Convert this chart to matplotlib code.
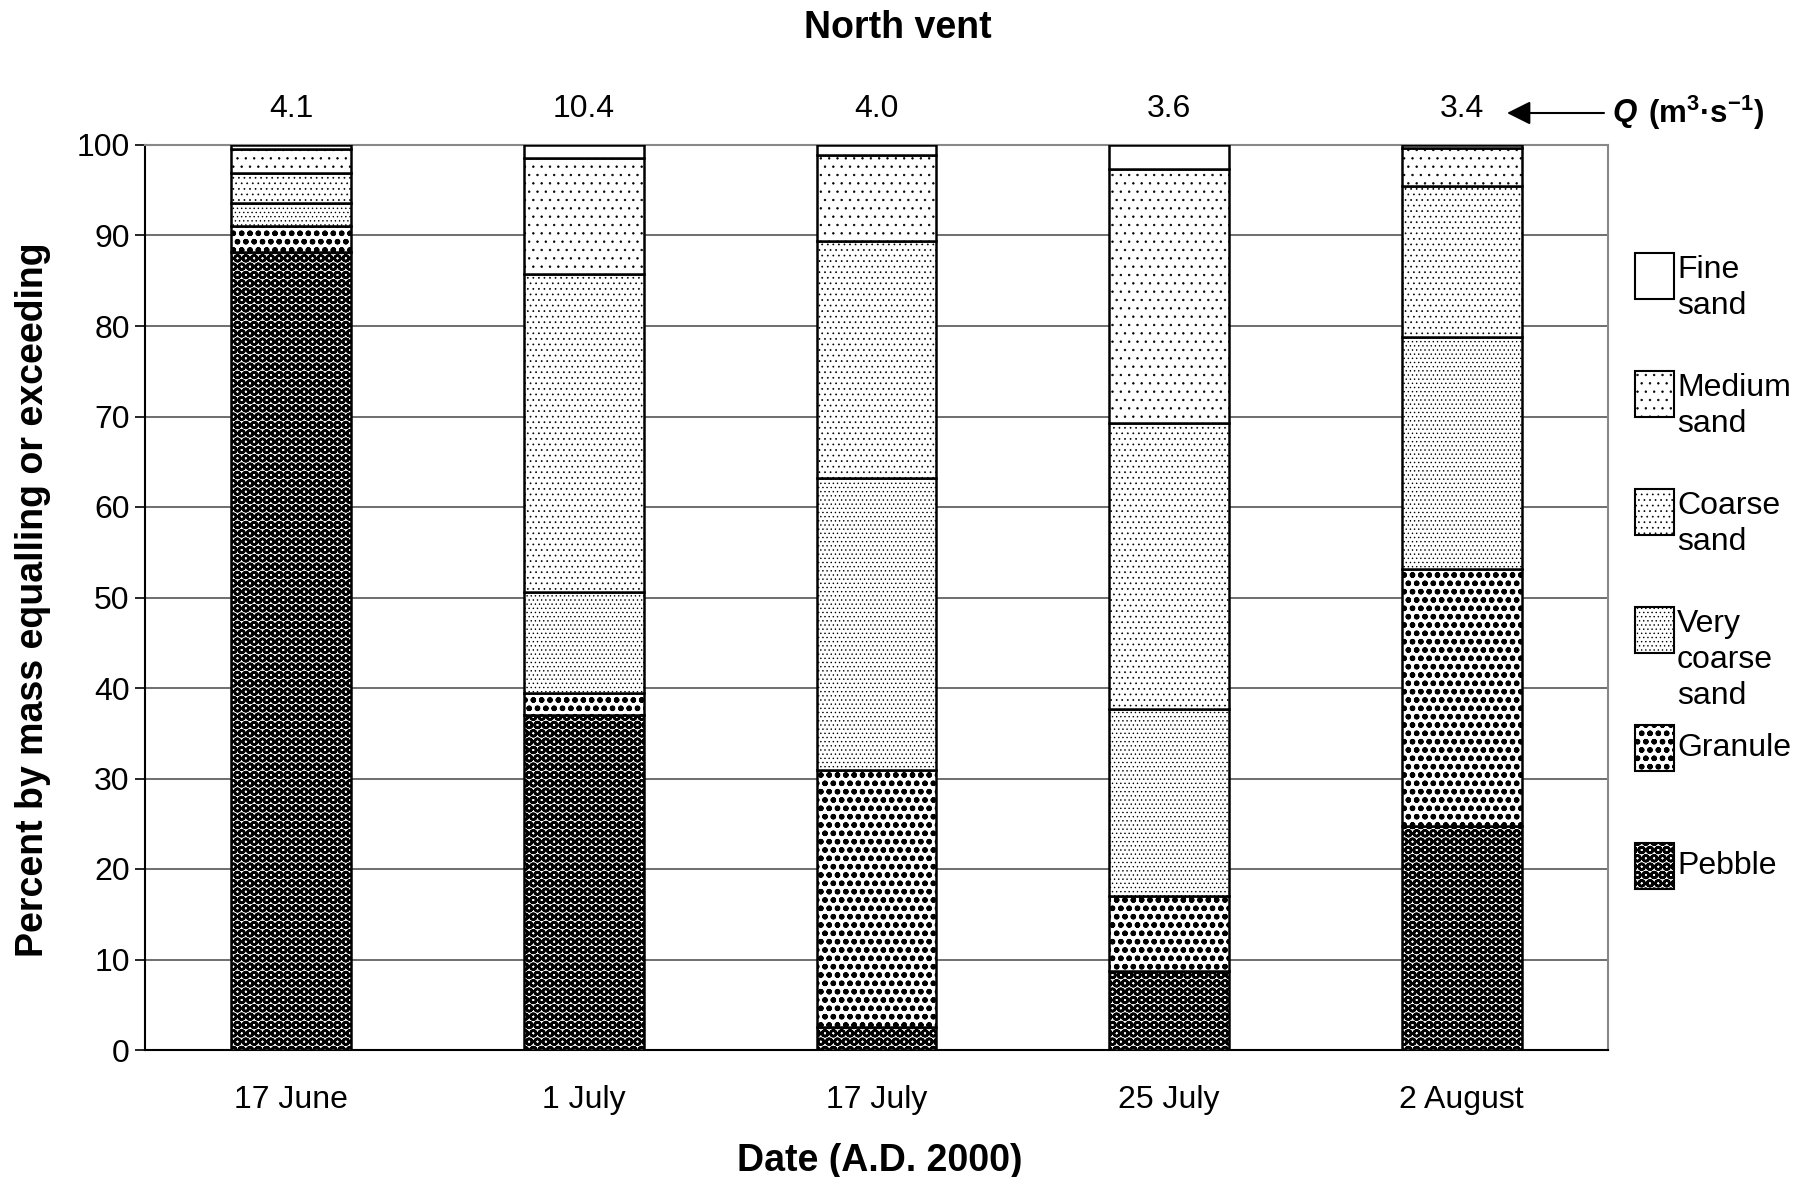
import matplotlib
matplotlib.use('Agg')
import matplotlib.pyplot as plt
import matplotlib.transforms as mtransforms
from matplotlib.patches import Rectangle
import numpy as np

plt.rcParams['font.family'] = ['Liberation Sans', 'DejaVu Sans']
plt.rcParams['mathtext.fontset'] = 'custom'
plt.rcParams['mathtext.rm'] = 'Liberation Sans'
plt.rcParams['mathtext.bf'] = 'Liberation Sans:bold'
plt.rcParams['mathtext.it'] = 'Liberation Sans:italic'

# sampling dates and discharge above each bar
dates = ['17 June', '1 July', '17 July', '25 July', '2 August']
discharge = ['4.1', '10.4', '4.0', '3.6', '3.4']

# percent by mass in each class, bottom (pebble) to top (fine sand)
pebble = [88.2, 37.0, 2.5, 8.7, 24.7]
granule = [2.9, 2.4, 28.4, 8.3, 28.4]
very_coarse = [2.5, 11.2, 32.3, 20.7, 25.7]
coarse = [3.3, 35.2, 26.2, 31.6, 16.7]
medium = [2.7, 12.8, 9.5, 28.1, 4.2]
fine = [0.4, 1.4, 1.1, 2.6, 0.3]

class_names = ['Pebble', 'Granule', 'Very\ncoarse\nsand', 'Coarse\nsand', 'Medium\nsand', 'Fine\nsand']
class_values = [pebble, granule, very_coarse, coarse, medium, fine]
hatches = ['OO', 'oo', '....', '...', '..', '']
hatch_lw = [1.85, 1.6, 0.5, 0.5, 0.5, 1.0]

W, H = 1812, 1177
fig = plt.figure(figsize=(W / 100, H / 100), dpi=100)
ax = fig.add_axes([145 / W, 1 - 1050 / H, (1608 - 145) / W, (1050 - 145) / H])


def fx(px):
    return px / W


def fy(py):
    return 1 - py / H


x = np.arange(len(dates))
bottom = np.zeros(len(dates))
for vals, h, hl in zip(class_values, hatches, hatch_lw):
    bars = ax.bar(x, vals, width=0.41, bottom=bottom, color='white',
                  edgecolor='black', linewidth=1.8, hatch=h, zorder=3)
    for p in bars:
        if hasattr(p, 'set_hatch_linewidth'):
            p.set_hatch_linewidth(hl)
    bottom += np.array(vals)

ax.set_xlim(-0.5, len(dates) - 0.5)
ax.set_ylim(0, 100)
ax.set_yticks(range(0, 101, 10))
ax.set_xticks(x)
ax.set_xticklabels(dates)
ax.tick_params(axis='y', length=7, width=1.2, pad=4, labelsize=23)
ax.tick_params(axis='x', length=0, pad=25, labelsize=23)
ax.yaxis.grid(True, color='#555555', linewidth=1.2)
ax.set_axisbelow(True)
for side in ['top', 'right']:
    ax.spines[side].set_color('#888888')
    ax.spines[side].set_linewidth(1.5)
for side in ['left', 'bottom']:
    ax.spines[side].set_color('black')
    ax.spines[side].set_linewidth(1.5)

# discharge values above bars
trans = mtransforms.blended_transform_factory(ax.transData, ax.transAxes)
for i, q in enumerate(discharge):
    ax.text(i, (1050 - 109) / (1050 - 145), q, transform=trans,
            ha='center', va='center', fontsize=23)

ax.annotate('', xy=(fx(1507), fy(113)), xytext=(fx(1604), fy(113)),
            xycoords='figure fraction', textcoords='figure fraction',
            arrowprops=dict(arrowstyle='-|>', color='black', lw=1.5,
                            mutation_scale=36, shrinkA=0, shrinkB=0))
fig.text(fx(1612), fy(113), 'Q', ha='left', va='center', fontsize=22.5,
         fontweight='bold', fontstyle='italic')
fig.text(fx(1648), fy(113), '(m$^{\\mathbf{3}}$\u00b7s$^{\\mathbf{-1}}$)',
         ha='left', va='center', fontsize=22.5, fontweight='bold')

# titles
fig.text(fx(898), fy(28), 'North vent', ha='center', va='center',
         fontsize=27, fontweight='bold')
fig.text(fx(880), fy(1161), 'Date (A.D. 2000)', ha='center', va='center',
         fontsize=27, fontweight='bold')
fig.text(fx(33), fy(600), 'Percent by mass equalling or exceeding',
         ha='center', va='center', rotation=90, fontsize=27, fontweight='bold')

# legend, fine sand at top
for k, idx in enumerate(range(len(class_names) - 1, -1, -1)):
    top = 253 + k * 118
    box = Rectangle((fx(1635), fy(top + 46)), fx(1674) - fx(1635), fy(top) - fy(top + 46),
                    transform=fig.transFigure, facecolor='white', edgecolor='black',
                    linewidth=1.5, hatch=hatches[idx])
    if hasattr(box, 'set_hatch_linewidth'):
        box.set_hatch_linewidth(hatch_lw[idx])
    fig.patches.append(box)
    lines = class_names[idx].split('\n')
    if len(lines) == 1:
        fig.text(fx(1677), fy(top + 23), lines[0], ha='left', va='center', fontsize=23)
    else:
        for j, line in enumerate(lines):
            fig.text(fx(1677), fy(top + 17 + j * 36), line, ha='left', va='center', fontsize=23)

fig.savefig('out.png', dpi=100)
